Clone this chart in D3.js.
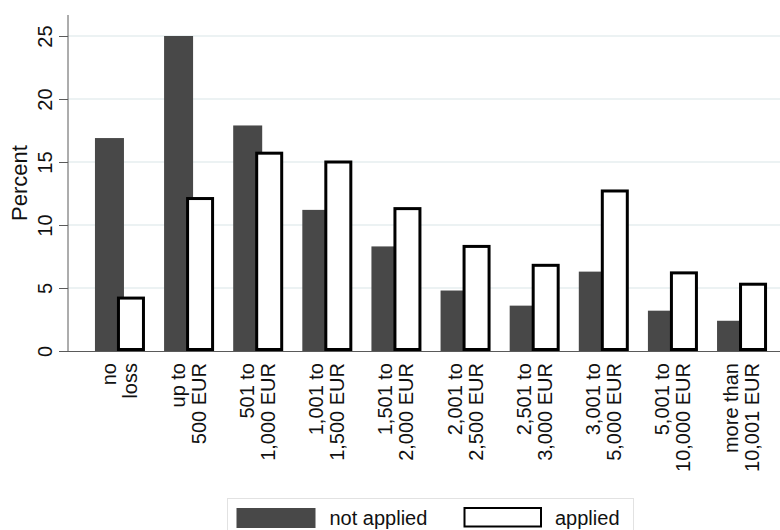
<!DOCTYPE html>
<html>
<head>
<meta charset="utf-8">
<script src="https://cdn.jsdelivr.net/npm/d3@7"></script>
<style>
  html, body { margin: 0; padding: 0; background: #ffffff; }
  svg { display: block; font-family: "Liberation Sans", Arial, sans-serif; }
</style>
</head>
<body>
<svg id="chart" width="780" height="530"></svg>
<script>
// ---- data ----
const categories = ["no loss", "up to 500 EUR", "501 to 1,000 EUR", "1,001 to 1,500 EUR",
  "1,501 to 2,000 EUR", "2,001 to 2,500 EUR", "2,501 to 3,000 EUR", "3,001 to 5,000 EUR",
  "5,001 to 10,000 EUR", "more than 10,001 EUR"];
const categoryLines = [["no", "loss"], ["up to", "500 EUR"], ["501 to", "1,000 EUR"],
  ["1,001 to", "1,500 EUR"], ["1,501 to", "2,000 EUR"], ["2,001 to", "2,500 EUR"],
  ["2,501 to", "3,000 EUR"], ["3,001 to", "5,000 EUR"], ["5,001 to", "10,000 EUR"],
  ["more than", "10,001 EUR"]];
const seriesNames = ["not applied", "applied"];
const notApplied = [16.9, 25.0, 17.9, 11.2, 8.3, 4.8, 3.6, 6.3, 3.2, 2.4];
const applied    = [4.2, 12.1, 15.7, 15.0, 11.3, 8.3, 6.8, 12.7, 6.2, 5.3];
const yTicks = [0, 5, 10, 15, 20, 25];
const yLabel = "Percent";

// ---- layout ----
const plotLeft = 68, plotRight = 780, plotTop = 15, plotBottom = 351;
const darkFill = "#484848";
const axisColor = "#5a5a5a";
const gridColor = "#e6eeef";

const svg = d3.select("#chart");

const y = d3.scaleLinear().domain([0, 25]).range([plotBottom, 36]);
const x = d3.scaleBand().domain(categories).range([plotLeft, 794])
  .paddingInner(0.2766).paddingOuter(0.39);
const bw = x.bandwidth();

// gridlines
svg.append("g").selectAll("line")
  .data(yTicks.filter(d => d > 0))
  .join("line")
  .attr("x1", plotLeft).attr("x2", plotRight)
  .attr("y1", d => y(d)).attr("y2", d => y(d))
  .attr("stroke", gridColor).attr("stroke-width", 1.5);

// bars: not applied (dark)
svg.append("g").selectAll("rect")
  .data(categories)
  .join("rect")
  .attr("x", d => x(d))
  .attr("width", bw * 0.58)
  .attr("y", (d, i) => y(notApplied[i]))
  .attr("height", (d, i) => y(0) - y(notApplied[i]))
  .attr("fill", darkFill);

// bars: applied (white with black outline)
svg.append("g").selectAll("rect")
  .data(categories)
  .join("rect")
  .attr("x", d => x(d) + bw * 0.47)
  .attr("width", bw * 0.50)
  .attr("y", (d, i) => y(applied[i]))
  .attr("height", (d, i) => y(0) - 1.5 - y(applied[i]))
  .attr("fill", "#ffffff")
  .attr("stroke", "#000000")
  .attr("stroke-width", 3);

// y axis
const yAxis = d3.axisLeft(y).tickValues(yTicks).tickSize(9).tickSizeOuter(0);
const gy = svg.append("g").attr("transform", `translate(${plotLeft},0)`).call(yAxis);
gy.select(".domain").remove();
gy.selectAll(".tick line").attr("stroke", axisColor).attr("stroke-width", 1);
gy.selectAll(".tick text")
  .attr("transform", "rotate(-90)")
  .attr("x", 0).attr("y", -16.5).attr("dy", null)
  .attr("text-anchor", "middle")
  .attr("fill", "#111")
  .style("font-size", "20px")
  .style("font-family", "'Liberation Sans', Arial, sans-serif");
gy.append("line")
  .attr("x1", 0).attr("x2", 0)
  .attr("y1", plotTop).attr("y2", plotBottom + 0.5)
  .attr("stroke", axisColor).attr("stroke-width", 1);

// x axis line
svg.append("line")
  .attr("x1", plotLeft).attr("x2", plotRight)
  .attr("y1", plotBottom + 0.5).attr("y2", plotBottom + 0.5)
  .attr("stroke", axisColor).attr("stroke-width", 1);

// category labels (rotated, two lines)
const lineOffsets = [-4, 17];
const labG = svg.append("g");
categories.forEach((c, i) => {
  const cx = x(c) + bw / 2;
  categoryLines[i].forEach((t, j) => {
    labG.append("text")
      .attr("transform", `translate(${cx + lineOffsets[j]},363) rotate(-90)`)
      .attr("text-anchor", "end")
      .attr("fill", "#111")
      .style("font-size", "20px")
      .text(t);
  });
});

// y label
svg.append("text")
  .attr("transform", `translate(26.5,${(plotTop + plotBottom) / 2}) rotate(-90)`)
  .attr("text-anchor", "middle")
  .attr("fill", "#111")
  .style("font-size", "22px")
  .text(yLabel);

// legend
const leg = svg.append("g");
leg.append("rect")
  .attr("x", 227.5).attr("y", 498.5).attr("width", 406).attr("height", 40)
  .attr("fill", "#ffffff").attr("stroke", "#e2e2e2").attr("stroke-width", 1);
const legItems = [
  { name: seriesNames[0], sx: 236.5, tx: 329.5, fill: darkFill, stroke: "none", sw: 0 },
  { name: seriesNames[1], sx: 464.5, tx: 555, fill: "#ffffff", stroke: "#000000", sw: 2 }
];
legItems.forEach(it => {
  leg.append("rect")
    .attr("x", it.sx).attr("y", 508).attr("width", it.sw ? 76.5 : 79).attr("height", it.sw ? 18.5 : 20)
    .attr("fill", it.fill).attr("stroke", it.stroke).attr("stroke-width", it.sw);
  leg.append("text")
    .attr("x", it.tx).attr("y", 524.5)
    .attr("fill", "#111")
    .style("font-size", "20px")
    .text(it.name);
});
</script>
</body>
</html>
